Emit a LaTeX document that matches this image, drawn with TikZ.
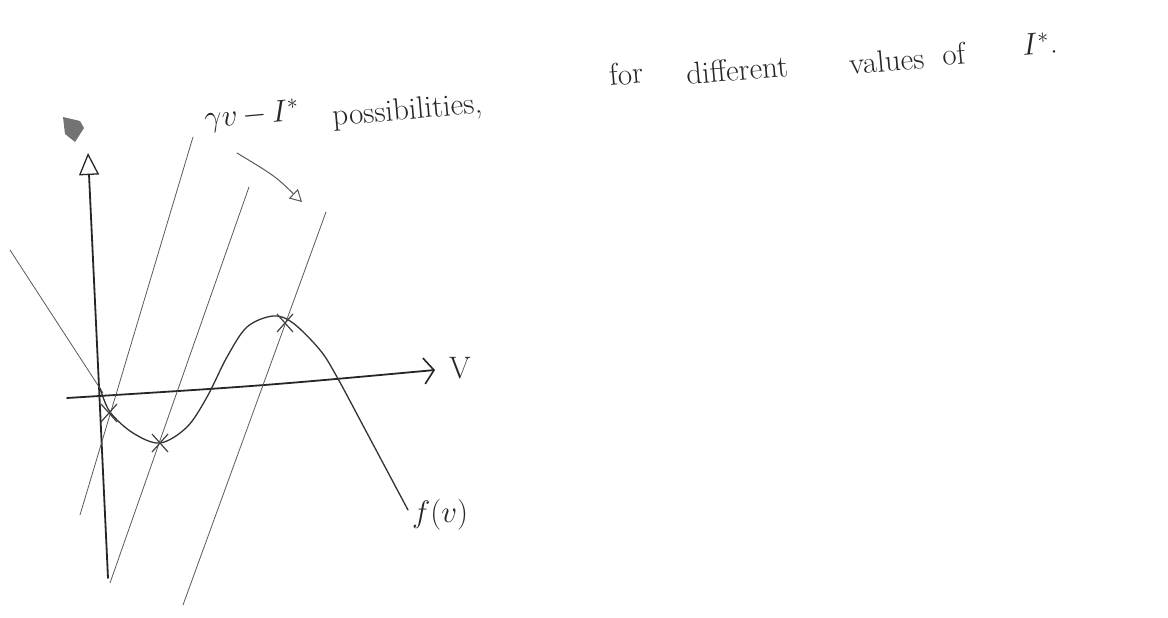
\RequirePackage{fix-cm}
\documentclass[tikz,border=0pt]{standalone}
\usetikzlibrary{arrows.meta,calc}
\begin{document}
\begin{tikzpicture}[x=1pt,y=-1pt,
  pen/.style={draw=black!80,line width=1.3pt,line cap=round,line join=round},
  axis/.style={draw=black!85,line width=1.8pt,line cap=round},
  thin/.style={draw=black!65,line width=0.8pt,line cap=round},
  cross/.style={draw=black!75,line width=1.2pt},
  lab/.style={anchor=base west,inner sep=0pt,text=black!85,font=\fontsize{31}{36}\selectfont},
  word/.style={lab,rotate=5}]
\useasboundingbox (0,0) rectangle (1168,618);
% axes
\coordinate (ybot) at (108,578);
\coordinate (ytop) at (88,153);
\coordinate (xleft) at (67,398);
\coordinate (xmid) at (260,386);
\coordinate (xright) at (435,370);
\draw[axis,-{Triangle[open,length=22pt,width=20pt,line width=1.3pt]}] (ybot) -- (ytop);
\draw[axis,-{Straight Barb[length=10pt,width=26pt,line width=1.6pt]}] (xleft) .. controls (xmid) .. (xright);
\node[lab] (vlab) at (449,378) {V};
% scribbled blob
\fill[black!55] (63,117) -- (80,121) -- (84,128) -- (75,142) -- (65,134) -- cycle;
% curve f(v)
\draw[thin] (10,250) -- (103,393);
\draw[pen] plot[smooth,tension=0.55] coordinates {(100,388) (110,412) (133,433) (160,443) (187,427) (207,397) (227,357) (247,327) (273,316) (293,323) (320,350) (337,377) (367,433) (408,510)};
\node[lab] (flab) at (412,522) {$f(v)$};
% lines gamma v - I*
\coordinate (l1a) at (193,137); \coordinate (l1b) at (80,515);
\coordinate (l2a) at (249,187); \coordinate (l2b) at (110,583);
\coordinate (l3a) at (326,212); \coordinate (l3b) at (183,605);
\draw[thin] (l1a) -- (l1b);
\draw[thin] (l2a) -- (l2b);
\draw[thin] (l3a) -- (l3b);
% crosses
\coordinate (c1) at (109,413);
\coordinate (c2) at (160,443);
\coordinate (c3) at (285,323);
\foreach \n in {c1,c2,c3}{
  \draw[cross] ($(\n)+(-8,-9)$) -- ($(\n)+(8,9)$);
  \draw[cross] ($(\n)+(-8,9)$) -- ($(\n)+(8,-9)$);
}
% label
\node[word] (t1) at (205,128) {$\gamma v\,{-}\,I^{*}$};
\node[word] (t2) at (333,126) {possibilities,};
\node[word] (t3) at (610,86) {for};
\node[word] (t4) at (687,85) {different};
\node[word] (t5) at (850,75) {values};
\node[word] (t6) at (943,66) {of};
\node[word] (t7) at (1023,56) {$I^{*}$.};
\coordinate (arrs) at (237,153);
\coordinate (arre) at (302,202);
\draw[thin,line width=1pt,-{Triangle[open,length=12pt,width=13pt,line width=1pt]}] (arrs) .. controls (275,176) .. (arre);
\end{tikzpicture}
\end{document}
